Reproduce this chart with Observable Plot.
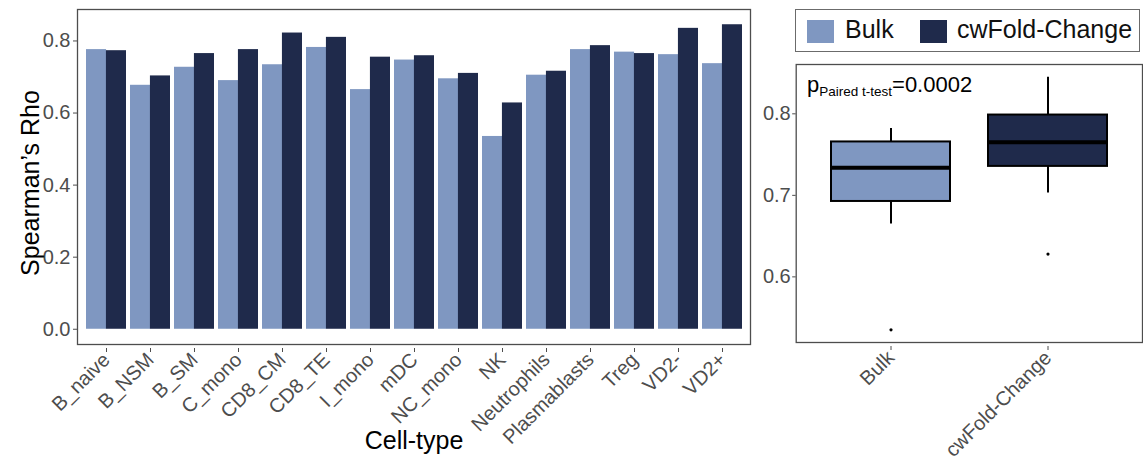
<!DOCTYPE html>
<html>
<head>
<meta charset="utf-8">
<script src="https://cdn.jsdelivr.net/npm/d3@7"></script>
<script src="https://cdn.jsdelivr.net/npm/@observablehq/plot@0.6"></script>
<style>
  body { margin: 0; background: #fff; }
  #wrap { position: relative; width: 1143px; height: 462px; font-family: "Liberation Sans", Arial, Helvetica, sans-serif; }
  #left { position: absolute; left: 0; top: 0; }
  #right { position: absolute; left: 753px; top: 0; }
  #legend { position: absolute; left: 795px; top: 9px; width: 345px; height: 43px; border: 1px solid #6b6b6b; box-sizing: border-box; background: #fff; }
  .sw { position: absolute; top: 10px; width: 27px; height: 23px; }
  .lt { position: absolute; top: 7px; font-size: 25px; line-height: 25px; color: #111; white-space: nowrap; }
</style>
</head>
<body>
<div id="wrap">
  <div id="left"></div>
  <div id="right"></div>
  <div id="legend"></div>
</div>
<script>
// ---- data ----
const cellTypes = ["B_naive","B_NSM","B_SM","C_mono","CD8_CM","CD8_TE","I_mono","mDC","NC_mono","NK","Neutrophils","Plasmablasts","Treg","VD2-","VD2+"];
const bulkRho = [0.776,0.677,0.727,0.690,0.734,0.782,0.665,0.747,0.695,0.535,0.705,0.776,0.769,0.762,0.737];
const cwfcRho = [0.773,0.703,0.765,0.776,0.822,0.810,0.755,0.759,0.710,0.628,0.716,0.787,0.765,0.835,0.845];
const seriesNames = ["Bulk","cwFold-Change"];
const seriesColors = ["#7f97c1","#1f2a4b"];
const yTicksLeft = [0, 0.2, 0.4, 0.6, 0.8];
const yTicksRight = [0.6, 0.7, 0.8];
const xTitle = "Cell-type";
const yTitle = "Spearman\u2019s Rho";
const pValueText = "=0.0002";
const pTestText = "Paired t-test";

const rows = cellTypes.flatMap((c, i) => [
  {cell: c, series: seriesNames[0], rho: bulkRho[i]},
  {cell: c, series: seriesNames[1], rho: cwfcRho[i]}
]);

const FONT = '"Liberation Sans", Arial, Helvetica, sans-serif';
const GRAY = "#4d4d4d";

// ---- left: grouped bars ----
const LW = 753, LML = 77, LMR = 3;
const step = (LW - LML - LMR) / (cellTypes.length - 0.1 + 0.3);
const bw = step * 0.9;

const left = Plot.plot({
  width: LW, height: 462,
  marginLeft: LML, marginRight: LMR, marginTop: 9, marginBottom: 118,
  style: {fontFamily: FONT, background: "transparent", overflow: "visible"},
  x: {type: "band", domain: cellTypes, paddingInner: 0.1, paddingOuter: 0.15},
  y: {domain: [-0.0423, 0.8873]},
  color: {domain: seriesNames, range: seriesColors},
  marks: [
    Plot.barY(rows, {filter: d => d.series === seriesNames[0], x: "cell", y: "rho", fill: "series", insetRight: bw / 2}),
    Plot.barY(rows, {filter: d => d.series === seriesNames[1], x: "cell", y: "rho", fill: "series", insetLeft: bw / 2}),
    Plot.frame({stroke: GRAY, strokeWidth: 1.3}),
    Plot.axisY({ticks: yTicksLeft, tickFormat: ".1f", tickSize: 4, tickPadding: 3, fontSize: 20, color: GRAY, label: null}),
    Plot.axisX({tickRotate: -45, tickSize: 4, tickPadding: 4, dy: 4, fontSize: 20, color: GRAY, label: null}),
    Plot.text([xTitle], {frameAnchor: "bottom", dy: 104, fontSize: 25, fill: "black"}),
    Plot.text([yTitle], {frameAnchor: "left", textAnchor: "middle", rotate: -90, dx: -47, dy: 6, fontSize: 25, fill: "black"})
  ]
});
document.getElementById("left").appendChild(left);

// ---- right: box plot ----
function quart(v) {
  const s = v.filter(x => x != null && !isNaN(x)).sort(d3.ascending);
  const q1 = d3.quantile(s, 0.25), q3 = d3.quantile(s, 0.75), r = 1.5 * (q3 - q1);
  return {s, q1, q3, lo: q1 - r, hi: q3 + r};
}
const whiskerLo = v => { const q = quart(Array.from(v)); return d3.min(q.s.filter(x => x >= q.lo)); };
const whiskerHi = v => { const q = quart(Array.from(v)); return d3.max(q.s.filter(x => x <= q.hi)); };
const outliers = V => { const q = quart(Array.from(V)); return Array.from(V, x => (x < q.lo || x > q.hi) ? x : NaN); };

const RW = 1143 - 753, RML = 795.7 - 753;
const right = Plot.plot({
  width: RW, height: 462,
  marginLeft: RML, marginRight: 1, marginTop: 64, marginBottom: 120,
  style: {fontFamily: FONT, background: "transparent", overflow: "visible"},
  x: {type: "band", domain: seriesNames, paddingInner: 0.24, paddingOuter: 0.22},
  y: {domain: [0.5195, 0.8605]},
  color: {domain: seriesNames, range: seriesColors},
  marks: [
    Plot.ruleX(rows, Plot.groupX({y1: whiskerLo, y2: whiskerHi}, {x: "series", y: "rho", stroke: "black", strokeWidth: 2})),
    Plot.barY(rows, Plot.groupX({y1: "p25", y2: "p75"}, {x: "series", y: "rho", fill: "series", stroke: "black", strokeWidth: 2})),
    Plot.tickY(rows, Plot.groupX({y: "p50"}, {x: "series", y: "rho", stroke: "black", strokeWidth: 4})),
    Plot.dot(rows, Plot.map({y: outliers}, {x: "series", y: "rho", z: "series", r: 1.6, fill: "black", stroke: null})),
    Plot.frame({stroke: GRAY, strokeWidth: 1.3}),
    Plot.axisY({ticks: yTicksRight, tickFormat: ".1f", tickSize: 3.5, tickPadding: 2, fontSize: 20, color: GRAY, label: null}),
    Plot.axisX({tickRotate: -45, tickSize: 4, tickPadding: 4, dy: 4, fontSize: 20, color: GRAY, label: null})
  ]
});
document.getElementById("right").appendChild(right);

// p-value annotation with subscript
const ann = d3.select(right).append("text")
  .attr("x", 807 - 753).attr("y", 92)
  .attr("text-anchor", "start")
  .attr("fill", "black").attr("font-family", FONT);
ann.append("tspan").attr("font-size", 22).text("p");
ann.append("tspan").attr("font-size", 13.5).attr("dy", 4).text(pTestText);
ann.append("tspan").attr("font-size", 22).attr("dy", -4).text(pValueText);

// legend
const leg = document.getElementById("legend");
const legX = [{sw: 11, tx: 49}, {sw: 124, tx: 161}];
seriesNames.forEach((name, i) => {
  const s = document.createElement("div");
  s.className = "sw"; s.style.left = legX[i].sw + "px"; s.style.background = seriesColors[i];
  leg.appendChild(s);
  const t = document.createElement("div");
  t.className = "lt"; t.style.left = legX[i].tx + "px"; t.textContent = name;
  leg.appendChild(t);
});
</script>
</body>
</html>
